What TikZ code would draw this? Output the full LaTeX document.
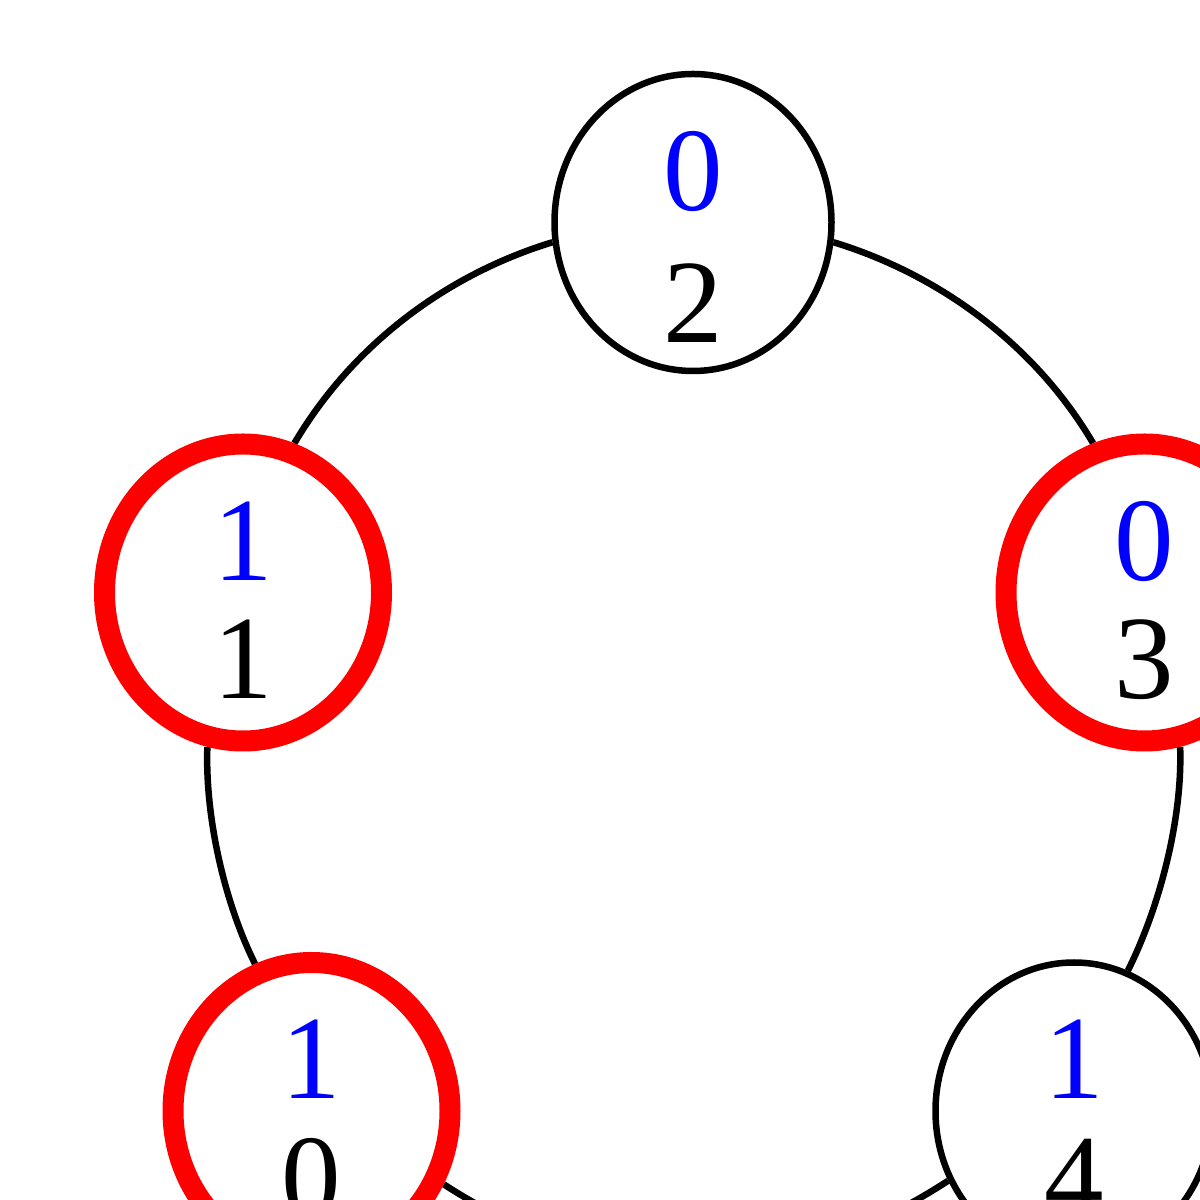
\documentclass[tikz,border=0pt]{standalone}
\usepackage{fontspec}
\setmainfont{Liberation Serif}
\usetikzlibrary{shapes.geometric,backgrounds,calc}
\begin{document}
\begin{tikzpicture}[x=1pt,y=1pt,
  vtx/.style={ellipse, minimum width=277pt, minimum height=297pt, inner sep=0pt, fill=white},
  plainvtx/.style={vtx, draw=black, line width=6.5pt},
  markedvtx/.style={vtx, draw=red, line width=21pt},
  lbl/.style={anchor=base, inner sep=0pt, font=\fontsize{119}{119}\selectfont},
  toplbl/.style={lbl, text=blue},
  botlbl/.style={lbl, text=black},
  edgeline/.style={draw=black, line width=6.5pt}]
\useasboundingbox (0,0) rectangle (1200,1200);
\clip (0,0) rectangle (1200,1200);
% vertices
\node[plainvtx]  (n2) at (693,977.5) {};
\node[markedvtx] (n1) at (243,607.5) {};
\node[markedvtx] (n3) at (1144.5,607.5) {};
\node[markedvtx] (n0) at (311.5,89) {};
\node[plainvtx]  (n4) at (1074,89) {};
% labels
\node[toplbl] (t2) at ($(n2)+(0,11.5)$) {0};
\node[botlbl] (b2) at ($(n2)+(0,-120.5)$) {2};
\node[toplbl] (t1) at ($(n1)+(0,12)$) {1};
\node[botlbl] (b1) at ($(n1)+(0,-106.5)$) {1};
\node[toplbl] (t3) at ($(n3)+(0,12)$) {0};
\node[botlbl] (b3) at ($(n3)+(0,-106.5)$) {3};
\node[toplbl] (t0) at ($(n0)+(0,12)$) {1};
\node[botlbl] (b0) at ($(n0)+(0,-106.5)$) {0};
\node[toplbl] (t4) at ($(n4)+(0,12)$) {1};
\node[botlbl] (b4) at ($(n4)+(0,-106.5)$) {4};
% edges
\begin{pgfonlayer}{background}
\fill[white] (0,0) rectangle (1200,1200);
\draw[edgeline] (n2.188) to[out=197,in=59.5,looseness=0.88] (n1.71);
\draw[edgeline] (n2.352) to[out=343,in=120.5,looseness=0.88] (n3.109);
\draw[edgeline] (n1.257) to[out=268,in=116.5,looseness=0.8] (n0.111);
\draw[edgeline] (n3.283) to[out=272,in=63.5,looseness=0.8] (n4.69);
\draw[edgeline] (n0.331) to[out=327,in=213] (n4.209);
\end{pgfonlayer}
\end{tikzpicture}
\end{document}
